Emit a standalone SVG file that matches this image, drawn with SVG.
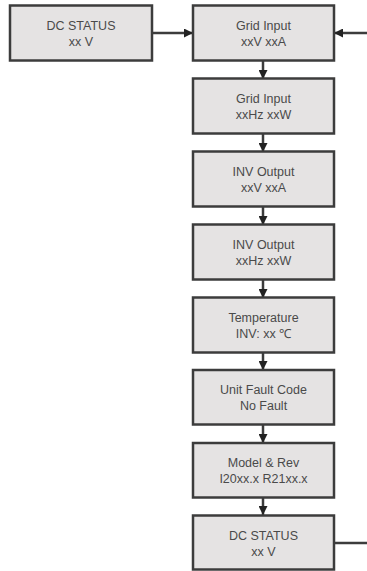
<svg xmlns="http://www.w3.org/2000/svg" width="367" height="571" viewBox="0 0 367 571">
<defs>
<style>
.box rect{fill:#e5e3e3;stroke:#3c3c3c;stroke-width:2.5}
.box text{font-family:"Liberation Sans",Arial,sans-serif;font-size:12.5px;fill:#4a4a4a;text-anchor:middle}
.conn line{stroke:#3c3c3c;stroke-width:2.5}
.conn line.arr{marker-end:url(#ah)}
</style>
<marker id="ah" viewBox="0 0 10 10" refX="10" refY="5" markerWidth="3.6" markerHeight="3.6" orient="auto" markerUnits="strokeWidth">
<path d="M0,0 L10,5 L0,10 Z" fill="#222"/>
</marker>
</defs>
<rect width="367" height="571" fill="#ffffff"/>
<g id="connectors" class="conn">
<line class="arr" x1="152" y1="33" x2="193" y2="33"/>
<line class="arr" x1="367" y1="33" x2="334" y2="33"/>
<line class="arr" x1="263" y1="61" x2="263" y2="79"/>
<line class="arr" x1="263" y1="134" x2="263" y2="152"/>
<line class="arr" x1="263" y1="207" x2="263" y2="225"/>
<line class="arr" x1="263" y1="280" x2="263" y2="298"/>
<line class="arr" x1="263" y1="353" x2="263" y2="370"/>
<line class="arr" x1="263" y1="425" x2="263" y2="443"/>
<line class="arr" x1="263" y1="498" x2="263" y2="515"/>
<line x1="334" y1="543" x2="367" y2="543"/>
</g>
<g id="dc-status-left" class="box">
<rect x="10" y="5.5" width="142" height="55"/>
<text x="81" y="30">DC STATUS</text>
<text x="81" y="46">xx V</text>
</g>
<g id="grid-input-va" class="box">
<rect x="193" y="5.5" width="141" height="55"/>
<text x="263.5" y="30">Grid Input</text>
<text x="263.5" y="46">xxV xxA</text>
</g>
<g id="grid-input-hzw" class="box">
<rect x="193" y="78.5" width="141" height="55"/>
<text x="263.5" y="103">Grid Input</text>
<text x="263.5" y="119">xxHz xxW</text>
</g>
<g id="inv-output-va" class="box">
<rect x="193" y="151.5" width="141" height="55"/>
<text x="263.5" y="176">INV Output</text>
<text x="263.5" y="192">xxV xxA</text>
</g>
<g id="inv-output-hzw" class="box">
<rect x="193" y="224.5" width="141" height="55"/>
<text x="263.5" y="249">INV Output</text>
<text x="263.5" y="265">xxHz xxW</text>
</g>
<g id="temperature" class="box">
<rect x="193" y="297.5" width="141" height="55"/>
<text x="263.5" y="322">Temperature</text>
<text x="263.5" y="338">INV: xx ℃</text>
</g>
<g id="fault-code" class="box">
<rect x="193" y="370" width="141" height="54.5"/>
<text x="263.5" y="394">Unit Fault Code</text>
<text x="263.5" y="410">No Fault</text>
</g>
<g id="model-rev" class="box">
<rect x="193" y="443" width="141" height="54.5"/>
<text x="263.5" y="467">Model &amp; Rev</text>
<text x="263.5" y="483">I20xx.x R21xx.x</text>
</g>
<g id="dc-status-bottom" class="box">
<rect x="193" y="515.5" width="141" height="54"/>
<text x="263.5" y="539.5">DC STATUS</text>
<text x="263.5" y="555.5">xx V</text>
</g>
</svg>
